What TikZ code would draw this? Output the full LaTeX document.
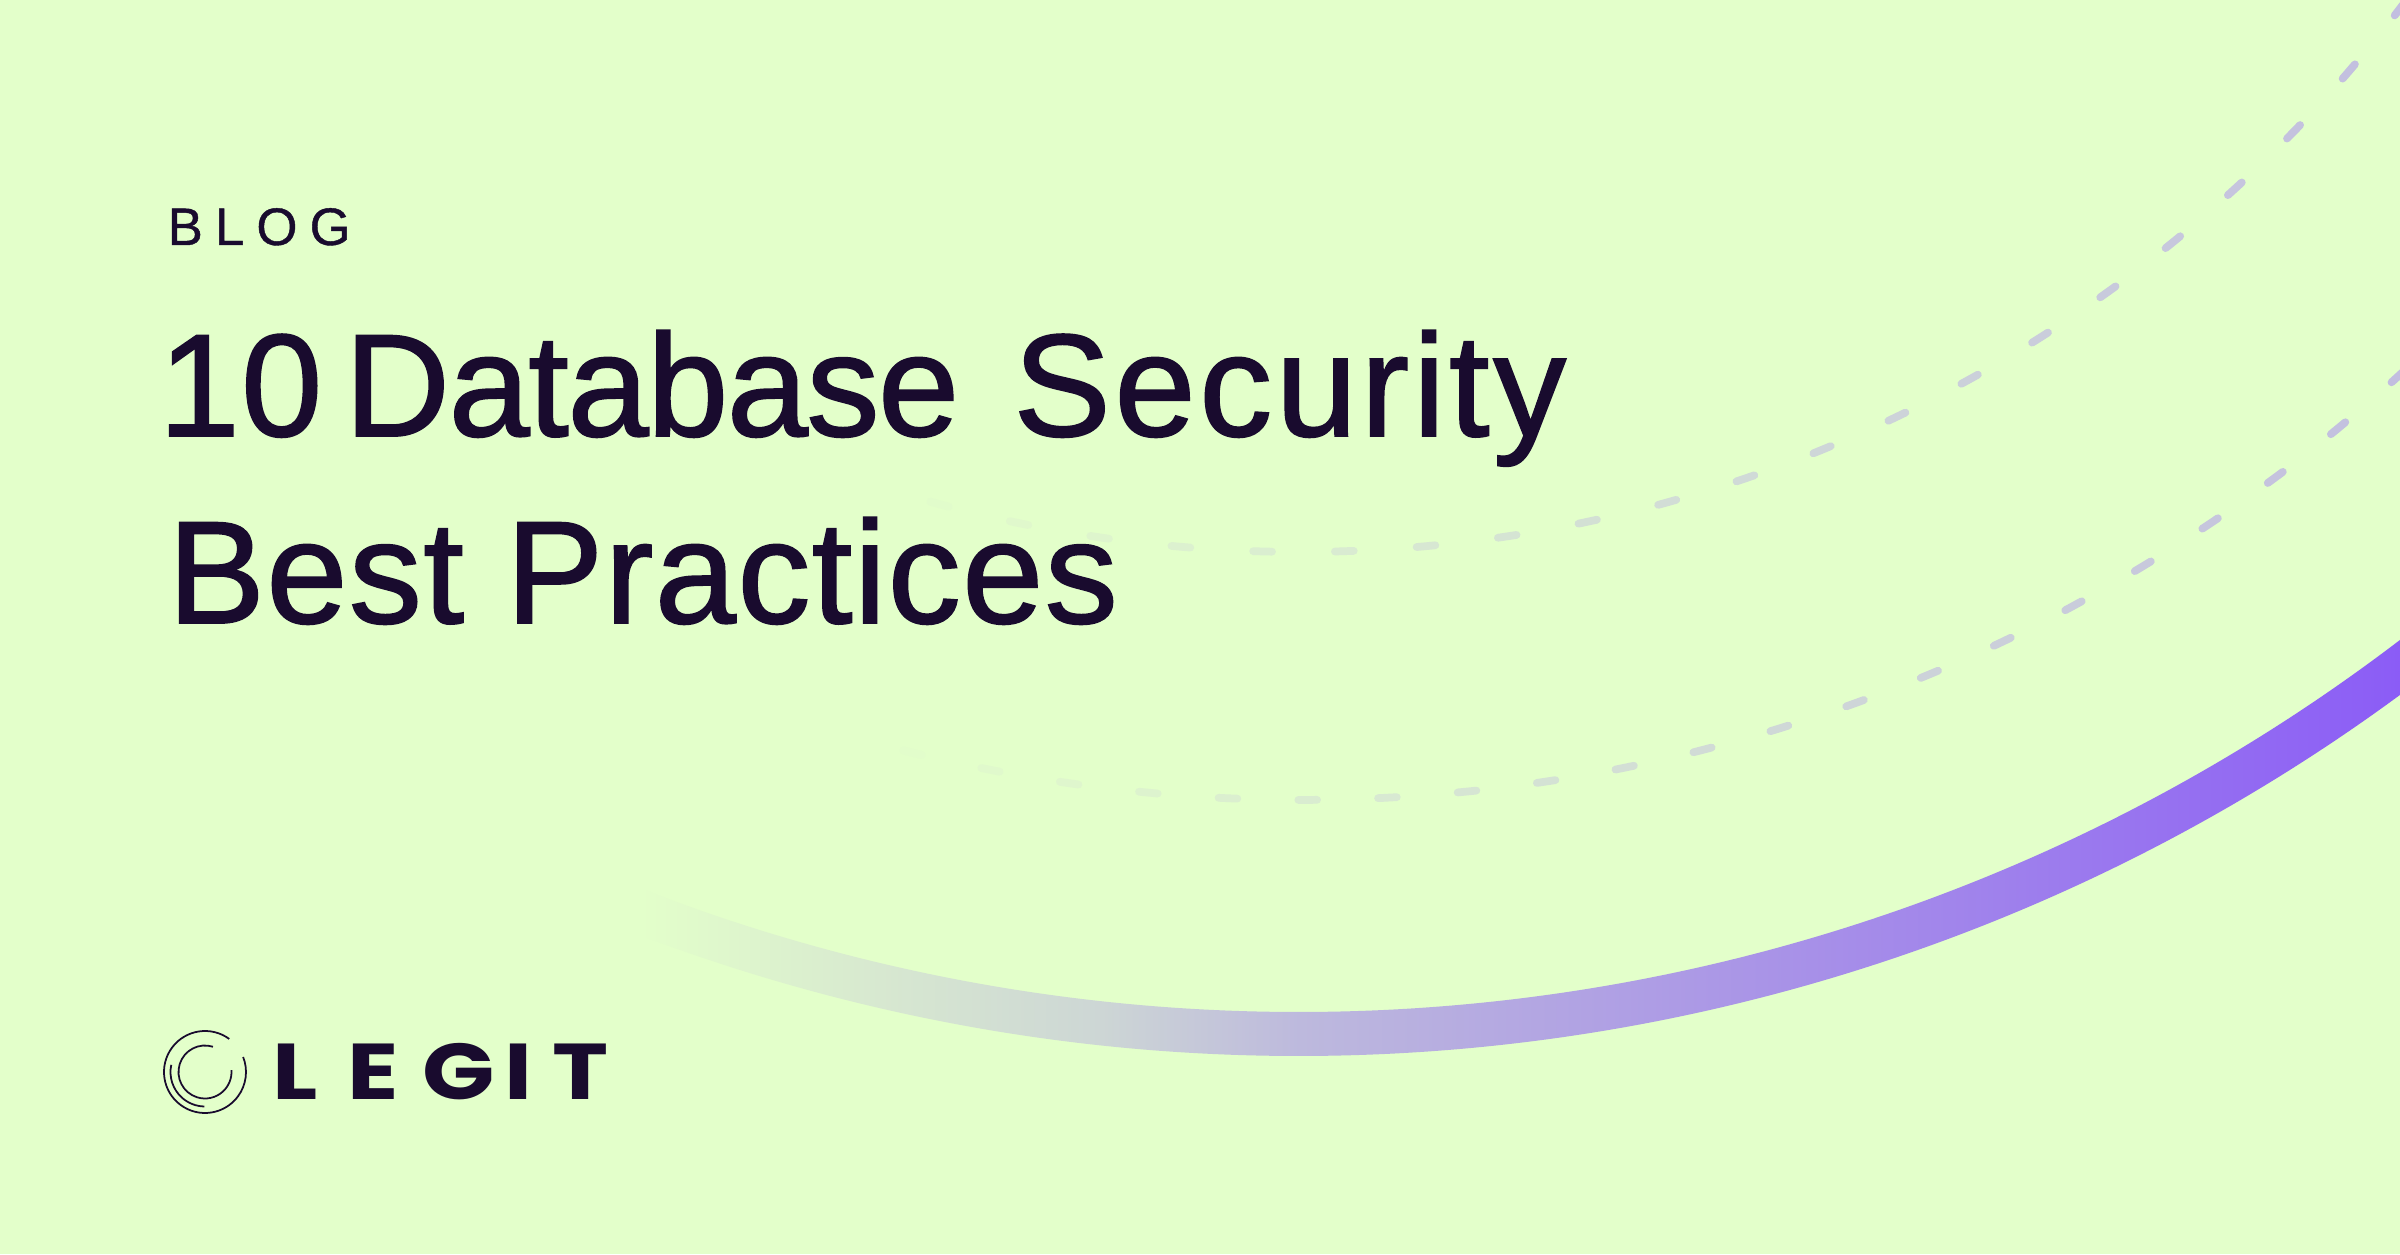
\documentclass[tikz,border=0pt]{standalone}
\usepackage{fontspec}
\setmainfont{Liberation Sans}
\newfontfamily\logofont{Poppins}
\definecolor{bgreen}{RGB}{227,255,202}
\definecolor{ink}{RGB}{25,11,46}
\definecolor{dashtone}{RGB}{194,190,224}
\definecolor{bandone}{RGB}{215,232,208}
\definecolor{bandtwo}{RGB}{205,214,213}
\definecolor{bandthree}{RGB}{189,185,221}
\definecolor{bandfour}{RGB}{159,129,236}
\definecolor{bandfive}{RGB}{139,92,246}
\pgfdeclarehorizontalshading{bandfade}{100bp}{color(0bp)=(bgreen); color(25bp)=(bgreen); color(31.8bp)=(bandone); color(38.1bp)=(bandtwo); color(43.75bp)=(bandthree); color(63.6bp)=(bandfour); color(75bp)=(bandfive); color(100bp)=(bandfive)}
\begin{document}
\begin{tikzpicture}[x=0.01cm,y=0.01cm]
	\def \rowblog{1009}
	\def \rowone{818}
	\def \rowtwo{631}
	\tikzstyle{kicker}=[anchor=base west,inner sep=0pt,text=ink,font=\fontsize{15}{18}\selectfont\addfontfeature{LetterSpace=23,FakeBold=0.8}]
	\tikzstyle{headline}=[anchor=base west,inner sep=0pt,text=ink,font=\fontsize{41.5}{50}\selectfont\addfontfeature{LetterSpace=1,FakeBold=1.2}]
	\tikzstyle{wordmark}=[anchor=base west,inner sep=0pt,text=ink,font=\logofont\bfseries\fontsize{22.5}{27}\selectfont\addfontfeature{FakeStretch=1.2}]
	\tikzstyle{ring}=[draw=ink,line width=0.5pt]
	\tikzstyle{arcdash}=[line width=2.2pt,line cap=round]
	
	\useasboundingbox (0,0) rectangle (2400,1254);
	\clip (0,0) rectangle (2400,1254);
	\fill[bgreen] (0,0) rectangle (2400,1254);
	
	\coordinate (outerpole) at (1300,2087);
	\coordinate (lowerpole) at (1302,2084);
	\coordinate (bandpole) at (1299,2057);
	\coordinate (seal) at (205,182);
	
	% dashed arcs
	\foreach \k in {-5,...,16} {
		\pgfmathsetmacro\ang{\k*3.385-1.55}
		\pgfmathsetmacro\tone{max(0,min(100,(440+1385*sin(\ang))/15.4))}
		\draw[arcdash,color=dashtone!\tone!bgreen] (outerpole) ++(-90+\ang-0.39:1385) arc[start angle=-90+\ang-0.39,end angle=-90+\ang+0.39,radius=1385];
	}
	\foreach \k in {-6,...,15} {
		\pgfmathsetmacro\ang{\k*2.805+0.2}
		\pgfmathsetmacro\tone{max(0,min(100,(442+1630*sin(\ang))/15.4))}
		\draw[arcdash,color=dashtone!\tone!bgreen] (lowerpole) ++(-90+\ang-0.33:1630) arc[start angle=-90+\ang-0.33,end angle=-90+\ang+0.33,radius=1630];
	}
	
	% purple band
	\begin{scope}
		\clip (bandpole) ++(-112:1815) arc[start angle=-112,end angle=-50,radius=1815] -- ++(-50:44) arc[start angle=-50,end angle=-112,radius=1859] -- cycle;
		\shade[shading=bandfade] (640,100) rectangle (2400,700);
	\end{scope}
	
	% labels
	\node[kicker] (blog) at (167,\rowblog) {BLOG};
	\node[headline] (titleone) at (158,\rowone) {10\kern-5.6pt\ {\addfontfeature{LetterSpace=-1}Database}\kern3.5pt\ {\addfontfeature{LetterSpace=2.5}Security}};
	\node[headline] (titletwo) at (167,\rowtwo) {Best Practices};
	
	% logo
	\draw[ring] (seal) ++(53.7:41) arc[start angle=53.7,end angle=381.5,radius=41];
	\draw[ring] (seal) ++(168:34.5) arc[start angle=168,end angle=269,radius=34.5];
	\draw[ring] (seal) ++(72.5:26.5) arc[start angle=72.5,end angle=364,radius=26.5];
	\node[wordmark] (legit) at (272,155) {L\kern8.4ptE\kern6.7ptG\kern2.8ptI\kern5.7ptT};
\end{tikzpicture}
\end{document}
